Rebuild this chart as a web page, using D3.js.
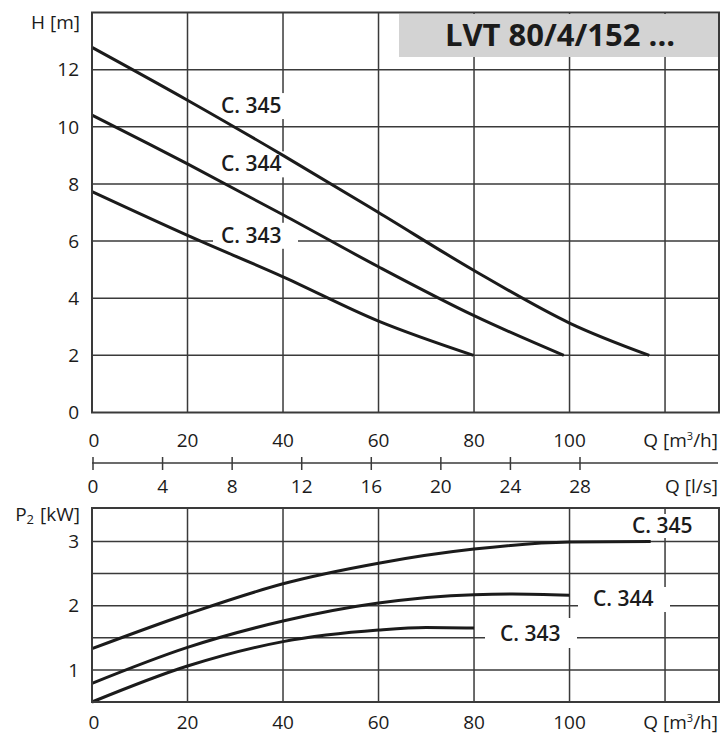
<!DOCTYPE html>
<html>
<head>
<meta charset="utf-8">
<script src="https://cdn.jsdelivr.net/npm/d3@7"></script>
<style>
  body { margin: 0; background: #fff; }
  svg { display: block; font-family: "Open Sans", "DejaVu Sans", sans-serif; }
</style>
</head>
<body>
<div id="chart"></div>
<script>
// curve names
const curveNames = ["C. 345", "C. 344", "C. 343"];

// H(Q) curves, Q in m3/h, H in m
const qHead345 = [0, 20, 40, 60, 80, 100, 116.7];
const head345  = [12.78, 10.93, 9.0, 7.0, 4.97, 3.13, 2];
const qHead344 = [0, 20, 40, 60, 80, 98.8];
const head344  = [10.41, 8.7, 6.92, 5.1, 3.39, 2];
const qHead343 = [0, 20, 40, 60, 79.9];
const head343  = [7.73, 6.2, 4.75, 3.2, 2];

// P2(Q) curves, kW
const qPow345 = [0, 20, 40, 60, 80, 100, 117];
const pow345  = [1.33, 1.87, 2.34, 2.66, 2.88, 2.99, 3.0];
const qPow344 = [0, 20, 40, 60, 80, 88, 100];
const pow344  = [0.79, 1.35, 1.76, 2.04, 2.17, 2.18, 2.16];
const qPow343 = [0, 20, 40, 60, 70, 80];
const pow343  = [0.5, 1.06, 1.44, 1.62, 1.66, 1.65];

// tick labels
const qTicks = [0, 20, 40, 60, 80, 100];
const qGrid = [20, 40, 60, 80, 100, 120];
const hTicks = [0, 2, 4, 6, 8, 10, 12];
const lsTicks = [0, 4, 8, 12, 16, 20, 24, 28];
const pTicks = [1, 2, 3];
const pGrid = [1, 1.5, 2, 2.5, 3];

const title = "LVT 80/4/152 ...";

var width = 721, height = 737;
var ink = "#1b1b1b", gridCol = "#3a3a3a";
var fs = 19;

var svg = d3.select("#chart").append("svg")
  .attr("width", width).attr("height", height);

var x = d3.scaleLinear().domain([0, 131.3]).range([92, 719]);
var yH = d3.scaleLinear().domain([0, 14]).range([412.5, 12.5]);
var yP = d3.scaleLinear().domain([0.5, 3.52]).range([702, 508]);
var xLs = d3.scaleLinear().domain([0, 28]).range([93, 580]);

// ---------- top chart ----------
var gTop = svg.append("g");
gTop.selectAll(".vg").data(qGrid).enter().append("line")
  .attr("x1", d => x(d)).attr("x2", d => x(d))
  .attr("y1", yH(14)).attr("y2", yH(0))
  .attr("stroke", gridCol).attr("stroke-width", 1.5);
gTop.selectAll(".hg").data(hTicks.filter(d => d > 0)).enter().append("line")
  .attr("x1", x(0)).attr("x2", x(131.3))
  .attr("y1", d => yH(d)).attr("y2", d => yH(d))
  .attr("stroke", gridCol).attr("stroke-width", 1.5);

// title box
gTop.append("rect").attr("x", 399).attr("y", yH(14) + 1.5)
  .attr("width", x(131.3) - 399).attr("height", 43)
  .attr("fill", "#d3d3d3");
gTop.append("text").attr("x", 560).attr("y", 46)
  .attr("text-anchor", "middle").attr("font-size", 31).attr("font-weight", 700)
  .attr("fill", ink).text(title);

// label backgrounds + labels (baseline heads in m)
var topLabelBase = [10.48, 8.44, 5.94];
topLabelBase.forEach(function(h) {
  var by = yH(h);
  gTop.append("rect").attr("x", 213).attr("y", by - 20)
    .attr("width", 85).attr("height", 26).attr("fill", "#fff");
});

var lineH = d3.line().x(d => x(d[0])).y(d => yH(d[1])).curve(d3.curveCatmullRom.alpha(0.5));
[[qHead345, head345], [qHead344, head344], [qHead343, head343]].forEach(function(s) {
  gTop.append("path").datum(d3.zip(s[0], s[1])).attr("d", lineH)
    .attr("fill", "none").attr("stroke", ink).attr("stroke-width", 3);
});

topLabelBase.forEach(function(h, i) {
  gTop.append("text").attr("x", 221).attr("y", yH(h))
    .attr("font-size", 21).attr("font-weight", 600).attr("fill", ink).text(curveNames[i]);
});

// frame
gTop.append("rect").attr("x", x(0)).attr("y", yH(14))
  .attr("width", x(131.3) - x(0)).attr("height", yH(0) - yH(14))
  .attr("fill", "none").attr("stroke", gridCol).attr("stroke-width", 2);

// y labels
gTop.selectAll(".yl").data(hTicks).enter().append("text")
  .attr("x", 79).attr("y", d => yH(d)).attr("dy", "0.36em")
  .attr("text-anchor", "end").attr("font-size", fs).attr("fill", ink).text(d => d);
gTop.append("text").attr("x", 80).attr("y", 29).attr("text-anchor", "end")
  .attr("font-size", fs).attr("fill", ink).text("H [m]");

// x labels m3/h
function qUnit(sel, yPos) {
  var t = sel.append("text").attr("x", 718).attr("y", yPos).attr("text-anchor", "end")
    .attr("font-size", fs).attr("fill", ink);
  t.append("tspan").text("Q [m");
  t.append("tspan").attr("dy", -7).attr("font-size", 11).text("3");
  t.append("tspan").attr("dy", 7).text("/h]");
}
gTop.selectAll(".xl").data(qTicks).enter().append("text")
  .attr("x", d => x(d) + (d === 0 ? 2 : 0)).attr("y", 447)
  .attr("text-anchor", "middle").attr("font-size", fs).attr("fill", ink).text(d => d);
qUnit(gTop, 447);

// ---------- l/s axis ----------
var gLs = svg.append("g");
gLs.append("line").attr("x1", 92).attr("x2", 718).attr("y1", 463).attr("y2", 463)
  .attr("stroke", gridCol).attr("stroke-width", 1.5);
gLs.selectAll(".lt").data(lsTicks).enter().append("line")
  .attr("x1", d => xLs(d)).attr("x2", d => xLs(d)).attr("y1", 457).attr("y2", 470)
  .attr("stroke", gridCol).attr("stroke-width", 1.5);
gLs.selectAll(".ll").data(lsTicks).enter().append("text")
  .attr("x", d => xLs(d)).attr("y", 493).attr("text-anchor", "middle")
  .attr("font-size", fs).attr("fill", ink).text(d => d);
gLs.append("text").attr("x", 718).attr("y", 493).attr("text-anchor", "end")
  .attr("font-size", fs).attr("fill", ink).text("Q [l/s]");

// ---------- bottom chart ----------
var gBot = svg.append("g");
gBot.selectAll(".vg").data(qGrid).enter().append("line")
  .attr("x1", d => x(d)).attr("x2", d => x(d))
  .attr("y1", yP(3.52)).attr("y2", yP(0.5))
  .attr("stroke", gridCol).attr("stroke-width", 1.5);
gBot.selectAll(".hg").data(pGrid).enter().append("line")
  .attr("x1", x(0)).attr("x2", x(131.3))
  .attr("y1", d => yP(d)).attr("y2", d => yP(d))
  .attr("stroke", gridCol).attr("stroke-width", 1.5);

var botLabels = [
  {tx: 632, ty: 533, bx: 622, bw: 80, by: 514, bh: 24},
  {tx: 593, ty: 606, bx: 578, bw: 92, by: 587, bh: 25},
  {tx: 500, ty: 641, bx: 485, bw: 92, by: 618, bh: 30}
];
botLabels.forEach(function(l) {
  gBot.append("rect").attr("x", l.bx).attr("y", l.by).attr("width", l.bw).attr("height", l.bh)
    .attr("fill", "#fff");
});

var lineP = d3.line().x(d => x(d[0])).y(d => yP(d[1])).curve(d3.curveMonotoneX);
[[qPow345, pow345], [qPow344, pow344], [qPow343, pow343]].forEach(function(s) {
  gBot.append("path").datum(d3.zip(s[0], s[1])).attr("d", lineP)
    .attr("fill", "none").attr("stroke", ink).attr("stroke-width", 3);
});

botLabels.forEach(function(l, i) {
  gBot.append("text").attr("x", l.tx).attr("y", l.ty)
    .attr("font-size", 21).attr("font-weight", 600).attr("fill", ink).text(curveNames[i]);
});

gBot.append("rect").attr("x", x(0)).attr("y", yP(3.52))
  .attr("width", x(131.3) - x(0)).attr("height", yP(0.5) - yP(3.52))
  .attr("fill", "none").attr("stroke", gridCol).attr("stroke-width", 2);

gBot.selectAll(".yl").data(pTicks).enter().append("text")
  .attr("x", 79).attr("y", d => yP(d)).attr("dy", "0.36em")
  .attr("text-anchor", "end").attr("font-size", fs).attr("fill", ink).text(d => d);
var pl = gBot.append("text").attr("x", 80).attr("y", 521).attr("text-anchor", "end")
  .attr("font-size", fs).attr("fill", ink);
pl.append("tspan").text("P");
pl.append("tspan").attr("dy", 3).attr("font-size", 13).text("2");
pl.append("tspan").attr("dy", -3).attr("dx", 6).text("[kW]");

gBot.selectAll(".xl").data(qTicks).enter().append("text")
  .attr("x", d => x(d) + (d === 0 ? 2 : 0)).attr("y", 729)
  .attr("text-anchor", "middle").attr("font-size", fs).attr("fill", ink).text(d => d);
qUnit(gBot, 729);
</script>
</body>
</html>
